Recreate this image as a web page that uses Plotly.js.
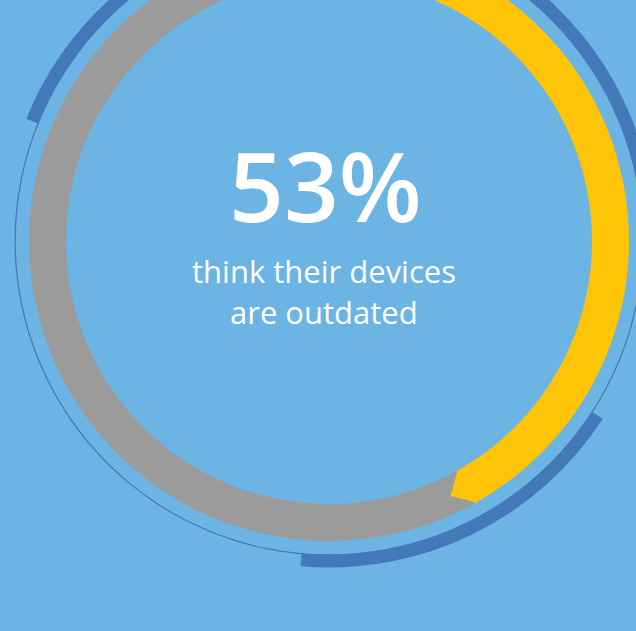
<!DOCTYPE html>
<html>
<head>
<meta charset="utf-8">
<script src="https://cdn.plot.ly/plotly-3.0.1.min.js"></script>
<style>
  html, body { margin: 0; padding: 0; width: 636px; height: 631px; overflow: hidden; background: #6cb4e4; }
  #chart { position: absolute; left: -21px; top: -109px; width: 700px; height: 700px; }
</style>
</head>
<body>
<div id="chart"></div>
<script>
// ---- data ----
const headline = '53%';
const captionLines = ['think their devices', 'are outdated'];
const ringLabels = ['Outdated', 'Not outdated'];
const ringStartDeg = [0, 151];
const ringEndDeg = [151, 360];
const accentStartDeg = [292, 30, 123];
const accentEndDeg = [345, 85, 185];
const tipOffsetDeg = 3.5;

// ---- styles / geometry ----
const BG = '#6cb4e4';
const ringColors = ['#fec508', '#9b9b9b'];
const ACCENT = '#4479b9';
const RING_IN = 263, RING_OUT = 300;
const THIN_R = 313.3, THIN_W = 1.2;
const ACC_IN = 314, ACC_OUT = 326.5;

function mid(s, e) { return (s + e) / 2; }
function span(s, e) { return e - s; }

const traces = [];

// thin outer circle (two halves)
traces.push({
  type: 'barpolar',
  theta: [90, 270], width: [180, 180],
  base: [THIN_R, THIN_R], r: [THIN_W, THIN_W],
  marker: { color: ACCENT, line: { width: 0 } },
  hoverinfo: 'skip'
});

// thick accent arcs
traces.push({
  type: 'barpolar',
  theta: accentStartDeg.map((s, i) => mid(s, accentEndDeg[i])),
  width: accentStartDeg.map((s, i) => span(s, accentEndDeg[i])),
  base: accentStartDeg.map(() => ACC_IN),
  r: accentStartDeg.map(() => ACC_OUT - ACC_IN),
  marker: { color: ACCENT, line: { width: 0 } },
  hoverinfo: 'skip'
});

// main ring: grey first, then yellow on top
[1, 0].forEach(i => {
  traces.push({
    type: 'barpolar',
    name: ringLabels[i],
    theta: [mid(ringStartDeg[i], ringEndDeg[i])],
    width: [span(ringStartDeg[i], ringEndDeg[i])],
    base: [RING_IN], r: [RING_OUT - RING_IN],
    marker: { color: ringColors[i], line: { width: 0 } },
    hoverinfo: 'skip'
  });
});

// pointed tip at the end of the yellow arc
const yEnd = ringEndDeg[0];
traces.push({
  type: 'scatterpolar',
  mode: 'lines',
  r: [RING_IN, (RING_IN + RING_OUT) / 2 + 1, RING_OUT, RING_IN],
  theta: [yEnd - 0.3, yEnd + tipOffsetDeg, yEnd - 0.3, yEnd - 0.3],
  fill: 'toself',
  fillcolor: ringColors[0],
  line: { width: 0, color: ringColors[0] },
  hoverinfo: 'skip'
});

function px2paperX(x) { return (x + 21) / 700; }
function px2paperY(y) { return 1 - (y + 109) / 700; }

const layout = {
  width: 700, height: 700,
  margin: { l: 0, r: 0, t: 0, b: 0, pad: 0 },
  paper_bgcolor: BG,
  plot_bgcolor: BG,
  showlegend: false,
  polar: {
    domain: { x: [0, 1], y: [0, 1] },
    bgcolor: 'rgba(0,0,0,0)',
    barmode: 'overlay',
    radialaxis: { range: [0, 350], visible: false, showgrid: false, showline: false, showticklabels: false, ticks: '' },
    angularaxis: { rotation: 90, direction: 'clockwise', visible: false, showgrid: false, showline: false, showticklabels: false, ticks: '' }
  },
  annotations: [
    {
      text: headline, showarrow: false, xref: 'paper', yref: 'paper',
      x: px2paperX(325), y: px2paperY(185), xanchor: 'center', yanchor: 'middle',
      font: { family: 'Open Sans, sans-serif', size: 96, color: '#ffffff', weight: 600 }
    },
    {
      text: captionLines[0], showarrow: false, xref: 'paper', yref: 'paper',
      x: px2paperX(324), y: px2paperY(271), xanchor: 'center', yanchor: 'middle',
      font: { family: 'Open Sans, sans-serif', size: 31, color: '#ffffff', weight: 400 }
    },
    {
      text: captionLines[1], showarrow: false, xref: 'paper', yref: 'paper',
      x: px2paperX(324), y: px2paperY(312), xanchor: 'center', yanchor: 'middle',
      font: { family: 'Open Sans, sans-serif', size: 31, color: '#ffffff', weight: 400 }
    }
  ]
};

Plotly.newPlot('chart', traces, layout, { displayModeBar: false, staticPlot: true });
</script>
</body>
</html>
